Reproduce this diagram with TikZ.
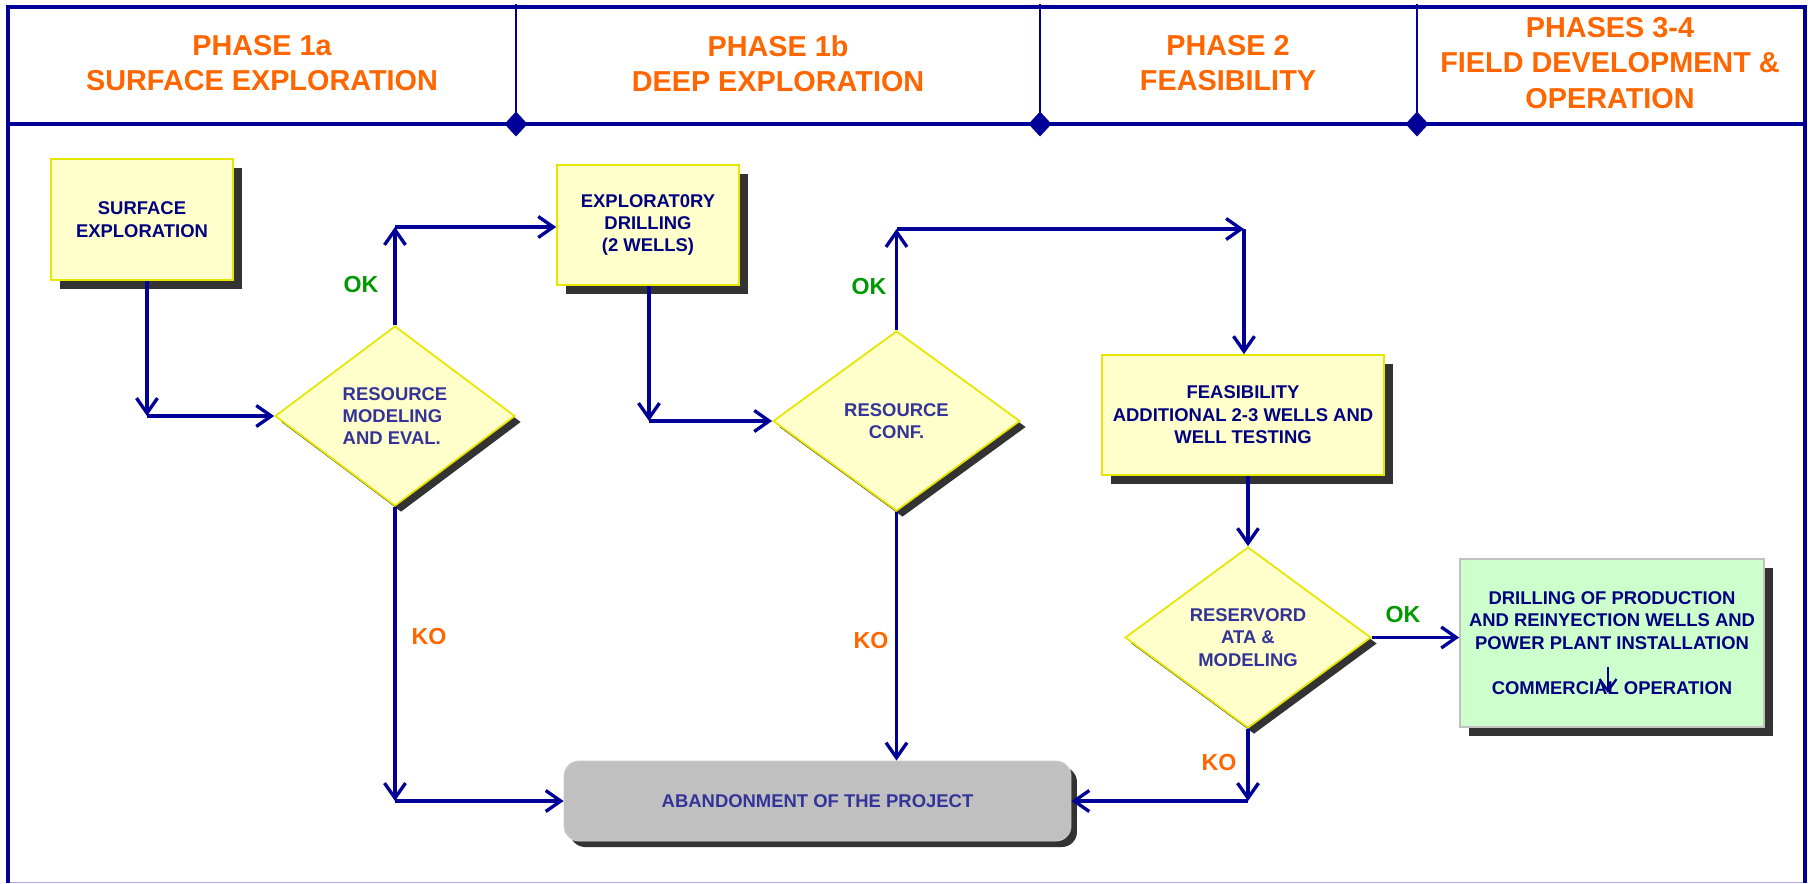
\documentclass[tikz,border=0pt]{standalone}
\usepackage{fontspec}
\setmainfont{Liberation Sans}
\usetikzlibrary{arrows.meta,shapes.geometric,shadows}
\definecolor{lineblue}{RGB}{0,0,153}
\definecolor{txtblue}{RGB}{0,0,128}
\definecolor{dtxt}{RGB}{51,51,153}
\definecolor{orng}{RGB}{255,102,0}
\definecolor{okgreen}{RGB}{0,153,0}
\definecolor{boxfill}{RGB}{255,255,204}
\definecolor{boxedge}{RGB}{230,230,0}
\definecolor{shadowc}{RGB}{51,51,51}
\definecolor{greenfill}{RGB}{204,255,204}
\definecolor{greenedge}{RGB}{192,192,192}
\definecolor{greyfill}{RGB}{192,192,192}
\definecolor{lavender}{RGB}{170,170,230}
\newcommand{\bodyfont}{\fontsize{10.5}{12.75}\selectfont\bfseries}
\newcommand{\headfont}{\fontsize{16.4}{20}\selectfont\bfseries}
\newcommand{\lblfont}{\fontsize{13.2}{15}\selectfont\bfseries}
\tikzset{
  flowbox/.style={rectangle, draw=boxedge, line width=1pt, fill=boxfill, text=txtblue,
    font=\bodyfont, align=center, inner sep=0pt,
    drop shadow={shadow xshift=0.18cm, shadow yshift=-0.18cm, fill=shadowc, opacity=1}},
  decision/.style={diamond, draw=boxedge, line width=1pt, fill=boxfill, text=dtxt,
    font=\bodyfont, inner sep=0pt, shape aspect=1.333,
    drop shadow={shadow xshift=0.12cm, shadow yshift=-0.12cm, fill=shadowc, opacity=1}},
  endbox/.style={rectangle, rounded corners=0.3cm, fill=greyfill, draw=greyfill!80!white,
    line width=0.5pt, text=dtxt, font=\bodyfont, inner sep=0pt,
    drop shadow={shadow xshift=0.12cm, shadow yshift=-0.12cm, fill=shadowc, opacity=1}},
  greenbox/.style={rectangle, draw=greenedge, line width=1pt, fill=greenfill, text=txtblue,
    font=\bodyfont, align=center, inner sep=0pt,
    drop shadow={shadow xshift=0.18cm, shadow yshift=-0.18cm, fill=shadowc, opacity=1}},
  flow/.style={draw=lineblue, line width=1.9pt, -{Straight Barb[length=0.3cm, width=0.42cm]}},
  oklbl/.style={text=okgreen, font=\lblfont},
  kolbl/.style={text=orng, font=\lblfont},
  phase/.style={text=orng, font=\headfont, align=center},
  frameline/.style={draw=lineblue, line width=2.27pt},
  sepline/.style={draw=lineblue, line width=1.2pt},
}
\begin{document}
\begin{tikzpicture}[x=0.02cm, y=-0.02cm]
\useasboundingbox (0,0) rectangle (1808,883);
% frame
\draw[draw=lavender, line width=0.6pt] (8,882.3) -- (1804.5,882.3);
\draw[frameline] (8,883) -- (8,7) -- (1804.5,7) -- (1804.5,883);
\draw[frameline] (8,124) -- (1804.5,124);
\foreach \sx in {516,1040,1417}{
  \draw[sepline] (\sx,4) -- (\sx,124);
  \fill[lineblue] (\sx,111.5) -- (\sx+11.5,124) -- (\sx,136.5) -- (\sx-11.5,124) -- cycle;
}
% headers
\node[phase] (p1a) at (262,63.5) {PHASE 1a\\SURFACE EXPLORATION};
\node[phase] (p1b) at (778,63.5) {PHASE 1b\\DEEP EXPLORATION};
\node[phase] (p2) at (1228,63.5) {PHASE 2\\FEASIBILITY};
\node[phase] (p34) at (1610,63) {PHASES 3-4\\FIELD DEVELOPMENT \&\\OPERATION};
% nodes
\node[flowbox, minimum width=3.64cm, minimum height=2.42cm] (b1) at (142,219.5) {SURFACE\\EXPLORATION};
\node[flowbox, minimum width=3.64cm, minimum height=2.40cm] (b2) at (648,225) {EXPLORAT0RY\\DRILLING\\(2 WELLS)};
\node[flowbox, minimum width=5.64cm, minimum height=2.40cm] (b3) at (1243,415) {FEASIBILITY\\ADDITIONAL 2-3 WELLS AND\\WELL TESTING};
\node[decision, minimum width=4.8cm, minimum height=3.6cm, align=left] (d1) at (395,416) {RESOURCE\\MODELING\\AND EVAL.};
\node[decision, minimum width=4.94cm, minimum height=3.6cm, align=center] (d2) at (896.5,421) {RESOURCE\\CONF.};
\node[decision, minimum width=4.92cm, minimum height=3.62cm, align=center] (d3) at (1248,637.5) {RESERVORD\\ATA \&\\MODELING};
\node[endbox, minimum width=10.14cm, minimum height=1.6cm] (ab) at (817.5,801) {ABANDONMENT OF THE PROJECT};
\node[greenbox, minimum width=6.08cm, minimum height=3.36cm] (gb) at (1612,643) {DRILLING OF PRODUCTION\\AND REINYECTION WELLS AND\\POWER PLANT INSTALLATION\\[12.75pt]COMMERCIAL OPERATION};
% connector corners
\coordinate (c1) at (147,416);
\coordinate (c2) at (395,227);
\coordinate (c3) at (649,421);
\coordinate (c4) at (896.5,229);
\coordinate (c5) at (1244,229);
\coordinate (c6) at (d3.south |- ab.east);
\coordinate (c7) at (d1.south |- ab.west);
% connectors
\draw[flow] (b1.south -| c1) -- (c1);
\draw[flow] (c1) -- (d1.west);
\draw[flow] (d1.north) -- (c2);
\draw[flow] (c2) -- (c2 -| b2.west);
\draw[flow] (b2.south -| c3) -- (c3);
\draw[flow] (c3) -- (d2.west);
\draw[flow] (d2.north) -- (c4);
\draw[flow] (c4) -- (c5);
\draw[flow] (c5) -- (c5 |- b3.north);
\draw[flow] (b3.south -| d3.north) -- (d3.north);
\draw[flow] (d3.east) -- (d3.east -| gb.west);
\draw[flow] (d3.south) -- (c6);
\draw[flow] (c6) -- (ab.east);
\draw[flow] (d2.south) -- (d2.south |- ab.north);
\draw[flow] (d1.south) -- (c7);
\draw[flow] (c7) -- (ab.west);
% small arrow inside green box
\draw[draw=txtblue, line width=1.3pt, -{Straight Barb[length=0.24cm, width=0.34cm]}]
  ([shift={(-0.08cm,-0.48cm)}]gb.center) -- ([shift={(-0.08cm,-1.0cm)}]gb.center);
% labels
\node[oklbl] (ok1) at (361,285) {OK};
\node[oklbl] (ok2) at (869,287) {OK};
\node[oklbl] (ok3) at (1403,615) {OK};
\node[kolbl] (ko1) at (429,637) {KO};
\node[kolbl] (ko2) at (871,641) {KO};
\node[kolbl] (ko3) at (1219,763) {KO};
\end{tikzpicture}
\end{document}
